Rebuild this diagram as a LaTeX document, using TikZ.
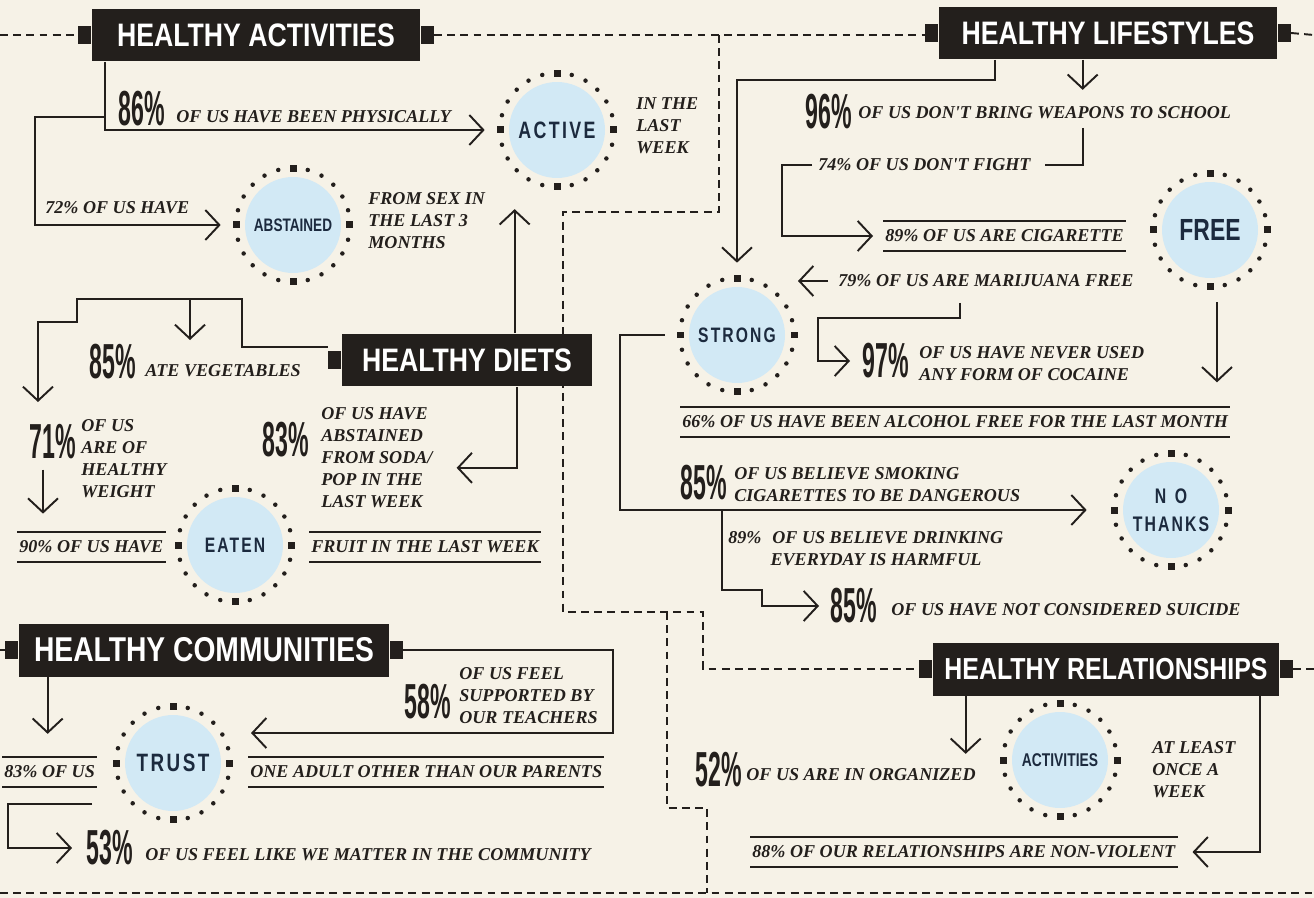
\documentclass[tikz,border=0pt]{standalone}
\usepackage{fontspec}
\usepackage{tikz}
\usetikzlibrary{arrows.meta}
\pgfdeclarelayer{back}
\pgfsetlayers{back,main}
\newfontfamily\bodyfont{Liberation Serif}
\newfontfamily\bannerfont[FakeStretch=0.82]{Liberation Sans}
\newfontfamily\bigfont[FakeStretch=0.47]{Liberation Sans}
\newfontfamily\badgefont[FakeStretch=0.75]{Liberation Sans}
\newfontfamily\badgewide[FakeStretch=0.75,LetterSpace=10]{Liberation Sans}
\definecolor{paper}{RGB}{246,242,231}
\definecolor{ink}{RGB}{35,31,28}
\definecolor{sky}{RGB}{210,233,245}
\definecolor{navy}{RGB}{28,42,62}

\begin{document}
\begin{tikzpicture}[x=0.02cm, y=-0.02cm,
  banner/.style={fill=ink, text=white, inner sep=0, minimum height=1.06cm,
    font=\bannerfont\bfseries\fontsize{18.5}{20}\selectfont},
  nub/.style={fill=ink, inner sep=0, minimum width=0.26cm, minimum height=0.36cm},
  badge/.style={circle, fill=paper, inner sep=0, minimum size=2.88cm, text=navy, align=center,
    path picture={
      \fill[sky] (path picture bounding box.center) circle (0.96cm);
      \foreach \ang in {0,15,...,345}
        \fill[ink] (path picture bounding box.center) ++(\ang:1.14cm) circle (0.045cm);
      \foreach \ang in {0,90,180,270}
        \fill[ink] (path picture bounding box.center) ++(\ang:1.14cm) ++(-0.07cm,-0.07cm) rectangle ++(0.14cm,0.14cm);
    }},
  txt/.style={inner sep=0, text=ink, align=left,
    font=\bodyfont\bfseries\itshape\fontsize{10.3}{12.5}\selectfont},
  pct/.style={inner sep=0, text=ink, font=\bigfont\bfseries\fontsize{28}{28}\selectfont},
  rule/.style={draw=ink, line width=1.1pt},
  ruled/.style={txt, inner ysep=0.17cm, inner xsep=0.04cm,
    append after command={(\tikzlastnode.north west) edge[rule] (\tikzlastnode.north east)
      (\tikzlastnode.south west) edge[rule] (\tikzlastnode.south east)}},
  wire/.style={draw=ink, line width=1.1pt},
  arr/.style={wire, -{Straight Barb[length=0.28cm, width=0.6cm]}},
  trail/.style={draw=ink, line width=1.1pt, dash pattern=on 4.5pt off 3pt}]
\begin{pgfonlayer}{back}
\fill[paper] (0,0) rectangle (1314,898);
\end{pgfonlayer}
\useasboundingbox (0,0) rectangle (1314,898);

% Frame ends of the dashed trail
\coordinate (topL) at (0,35);
\coordinate (topR) at (1314,35);
\coordinate (fork) at (719,35);
\coordinate (split) at (667,612);
\coordinate (botL) at (0,893);
\coordinate (botR) at (1314,893);
\coordinate (botMid) at (707,893);
\coordinate (commEdge) at (0,650);
\coordinate (relEdge) at (1314,669);

% Badges
\node[badge, font=\badgewide\bfseries\fontsize{13.5}{14}\selectfont] (active) at (557,130) {ACTIVE};
\node[badge, font=\badgefont\bfseries\fontsize{10.3}{11}\selectfont] (abst) at (293,225) {ABSTAINED};
\node[badge, font=\badgewide\bfseries\fontsize{11.9}{12}\selectfont] (eaten) at (235,545) {EATEN};
\node[badge, font=\badgewide\bfseries\fontsize{11.9}{12}\selectfont] (strong) at (737,335) {STRONG};
\node[badge, font=\badgefont\bfseries\fontsize{17.4}{18}\selectfont] (free) at (1210,230) {FREE};
\node[badge, font=\badgewide\bfseries\fontsize{12}{16}\selectfont] (nothx) at (1171,510) {N\hspace{0.4em}O\\THANKS};
\node[badge, font=\badgewide\bfseries\fontsize{14.3}{15}\selectfont] (trust) at (173,763) {TRUST};
\node[badge, font=\badgefont\bfseries\fontsize{10.5}{11}\selectfont] (orgact) at (1060,760) {ACTIVITIES};

% Banners
\node[banner, minimum width=6.56cm] (acts) at (256,35) {HEALTHY ACTIVITIES};
\node[banner, minimum width=6.76cm] (life) at (1108,33) {HEALTHY LIFESTYLES};
\node[banner, minimum width=5.0cm] (diets) at (467,360) {HEALTHY DIETS};
\node[banner, minimum width=7.4cm, font=\bannerfont\bfseries\fontsize{19.6}{20}\selectfont] (comm) at (204,650) {HEALTHY COMMUNITIES};
\node[banner, minimum width=6.92cm, font=\bannerfont\bfseries\fontsize{17.3}{20}\selectfont] (rel) at (1106,669) {HEALTHY RELATIONSHIPS};
\node[nub, anchor=east] (actsL) at (acts.west) {};
\node[nub, anchor=west] (actsR) at (acts.east) {};
\node[nub, anchor=east] (lifeL) at (life.west) {};
\node[nub, anchor=west] (lifeR) at (life.east) {};
\node[nub, anchor=east] (dietsL) at (diets.west) {};
\node[nub, anchor=east] (commL) at (comm.west) {};
\node[nub, anchor=west] (commR) at (comm.east) {};
\node[nub, anchor=east] (relL) at (rel.west) {};
\node[nub, anchor=west] (relR) at (rel.east) {};

% Dashed trail, kept behind the banners
\begin{pgfonlayer}{back}
\draw[trail] (topL) -- (actsL.west);
\draw[trail] (actsR.east) -- (actsR.east -| lifeL.west);
\draw[trail] (lifeR.east) -- (topR);
\draw[trail] (fork) -- ++(0,177) -- ++(-156,0) -- ++(0,400) -- ++(140,0) |- (relL.west);
\draw[trail] (split) -- ++(0,196) -| (botMid);
\draw[trail] (botL) -- (botR);
\draw[trail] (commEdge) -- (commL.west);
\draw[trail] (relR.east) -- (relEdge);
\end{pgfonlayer}

% Healthy activities
\node[pct, anchor=west] (pct86) at (118,109) {86\%};
\node[txt, anchor=west] (physical) at (176,117) {OF US HAVE BEEN PHYSICALLY};
\node[txt, anchor=west] (sex72) at (45,208) {72\% OF US HAVE};
\node[txt, anchor=north west] (sexNote) at (368,192) {FROM SEX IN\\THE LAST 3\\MONTHS};
\node[txt, anchor=north west] (weekNote) at (636,97) {IN THE\\LAST\\WEEK};
\coordinate (actsFork) at (105,117);
\draw[arr] ([xshift=0.26cm]acts.south west) |- (active.west);
\draw[arr] (actsFork) -- ++(-70,0) |- (abst.west);

% Healthy diets
\node[pct, anchor=west] (pct85v) at (89,362) {85\%};
\node[txt, anchor=west] (veg) at (145,371) {ATE VEGETABLES};
\node[pct, anchor=west] (pct71) at (29,442) {71\%};
\node[txt, anchor=north west] (weight) at (81,419) {OF US\\ARE OF\\HEALTHY\\WEIGHT};
\node[pct, anchor=west] (pct83) at (262,440) {83\%};
\node[txt, anchor=north west] (soda) at (321,407) {OF US HAVE\\ABSTAINED\\FROM SODA/\\POP IN THE\\LAST WEEK};
\node[ruled, anchor=west] (have90) at (17,547) {90\% OF US HAVE};
\node[ruled, anchor=west] (fruit) at (309,547) {FRUIT IN THE LAST WEEK};
\coordinate (vegFork) at (190,299);
\draw[arr] ([xshift=3.46cm]diets.north west) -- ++(0,-124);
\draw[arr] ([xshift=3.5cm]diets.south west) -- ++(0,81) -- ++(-60,0);
\draw[arr] ([yshift=0.26cm]dietsL.west) -- ++(-86,0) -- ++(0,-48) -- ++(-165,0) -- ++(0,23) -- ++(-39,0) -- ++(0,80);
\draw[arr] (vegFork) -- ++(0,41);
\draw[arr] ([xshift=0.28cm, yshift=-0.2cm]pct71.south west) -- ++(0,44);

% Healthy lifestyles
\node[pct, anchor=west] (pct96) at (805,112) {96\%};
\node[txt, anchor=west] (weapons) at (858,113) {OF US DON'T BRING WEAPONS TO SCHOOL};
\node[txt, anchor=west] (fight) at (818,165) {74\% OF US DON'T FIGHT};
\node[ruled, anchor=west] (cig) at (883,236) {89\% OF US ARE CIGARETTE};
\node[txt, anchor=west] (mj) at (838,281) {79\% OF US ARE MARIJUANA FREE};
\node[pct, anchor=west] (pct97) at (862,361) {97\%};
\node[txt, anchor=north west] (cocaine) at (919,346) {OF US HAVE NEVER USED\\ANY FORM OF COCAINE};
\node[ruled, anchor=west] (alc) at (680,422) {66\% OF US HAVE BEEN ALCOHOL FREE FOR THE LAST MONTH};
\node[pct, anchor=west] (pct85s) at (680,483) {85\%};
\node[txt, anchor=north west] (smoke) at (734,467) {OF US BELIEVE SMOKING\\CIGARETTES TO BE DANGEROUS};
\node[txt, anchor=north west] (drink) at (728,531) {89\%\hspace{0.6em}OF US BELIEVE DRINKING\\\hphantom{89\%\hspace{0.5em}}EVERYDAY IS HARMFUL};
\node[pct, anchor=west] (pct85c) at (830,606) {85\%};
\node[txt, anchor=west] (suicide) at (891,610) {OF US HAVE NOT CONSIDERED SUICIDE};
\coordinate (fightTop) at (1083,128);
\coordinate (mjDrop) at (960,303);
\coordinate (drinkFork) at (722,510);
\draw[arr] ([xshift=1.12cm]life.south west) -- ++(0,20) -| (strong.north);
\draw[arr] ([xshift=2.88cm]life.south west) -- ++(0,30);
\draw[wire] (fightTop) |- ([xshift=0.28cm]fight.east);
\draw[arr] ([xshift=-0.12cm]fight.west) -- ++(-30,0) |- ([xshift=-0.2cm]cig.west);
\draw[arr] ([xshift=-0.2cm]mj.west) -- ++(-30,0);
\draw[arr] ([xshift=0.14cm]free.south) -- ++(0,80);
\draw[arr] (mjDrop) -- ++(0,15) -- ++(-142,0) |- ([xshift=-0.24cm]pct97.west);
\draw[arr] (strong.west) -- ++(-45,0) |- ([xshift=-0.24cm]nothx.west);
\draw[arr] (drinkFork) -- ++(0,80) -- ++(40,0) |- ([xshift=-0.22cm]pct85c.west);

% Healthy communities
\node[pct, anchor=west] (pct58) at (404,702) {58\%};
\node[txt, anchor=north west] (teachers) at (459,667) {OF US FEEL\\SUPPORTED BY\\OUR TEACHERS};
\node[ruled, anchor=west] (us83) at (2,772) {83\% OF US};
\node[ruled, anchor=west] (adult) at (248,772) {ONE ADULT OTHER THAN OUR PARENTS};
\node[pct, anchor=west] (pct53) at (86,848) {53\%};
\node[txt, anchor=west] (matter) at (145,855) {OF US FEEL LIKE WE MATTER IN THE COMMUNITY};
\coordinate (trustFork) at (92,804);
\draw[arr] ([xshift=0.58cm]comm.south west) -- ++(0,57);
\draw[arr] (commR.east) -- ++(210,0) -- ++(0,83) -- ++(-362,0);
\draw[arr] (trustFork) -- ++(-84,0) |- ([xshift=-0.28cm]pct53.west);

% Healthy relationships
\node[pct, anchor=west] (pct52) at (695,770) {52\%};
\node[txt, anchor=west] (organized) at (746,775) {OF US ARE IN ORGANIZED};
\node[txt, anchor=north west] (onceNote) at (1152,741) {AT LEAST\\ONCE A\\WEEK};
\node[ruled, anchor=west] (viol) at (750,852) {88\% OF OUR RELATIONSHIPS ARE NON-VIOLENT};
\draw[arr] ([xshift=0.66cm]rel.south west) -- ++(0,58);
\draw[arr] ([xshift=-0.38cm]rel.south east) |- ([xshift=0.3cm]viol.east);
\end{tikzpicture}
\end{document}
